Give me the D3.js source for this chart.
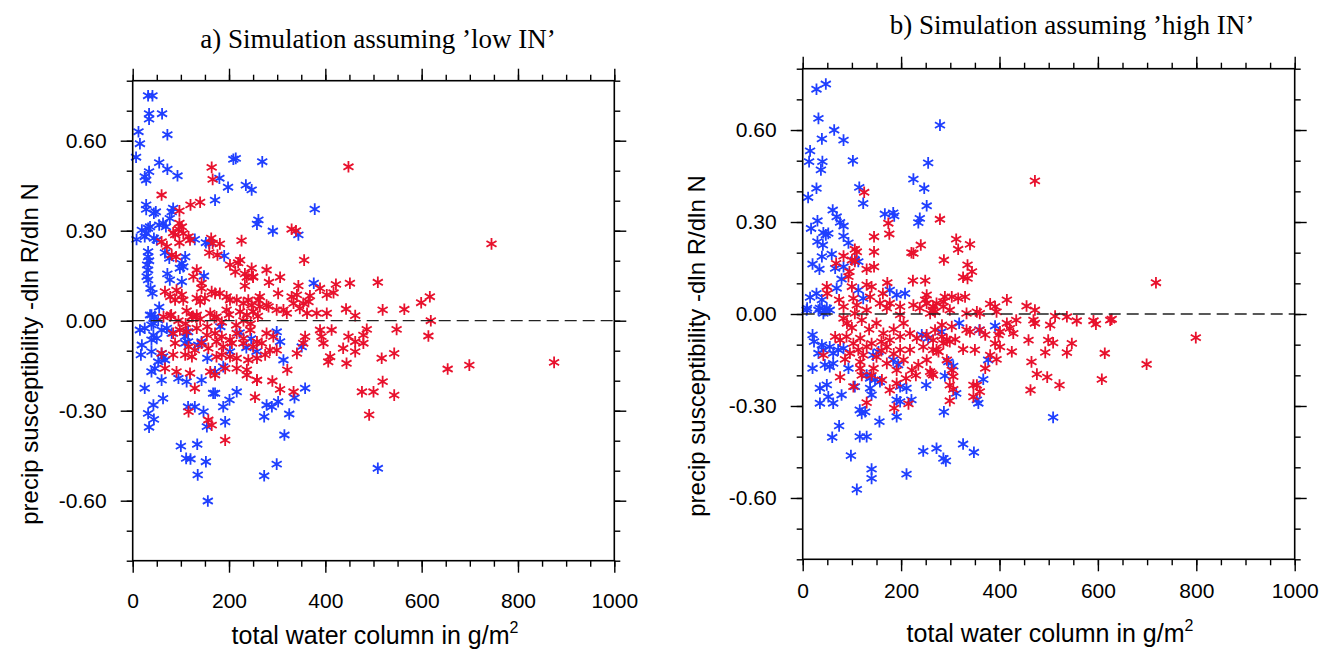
<!DOCTYPE html>
<html><head><meta charset="utf-8">
<script src="https://cdn.jsdelivr.net/npm/d3@7"></script>
<style>body{margin:0;background:#fff} svg{display:block}</style>
</head><body><svg id="c" width="1321" height="650"></svg>
<script>
const xTickValues = [0,200,400,600,800,1000];
const xTickLabels = ["0","200","400","600","800","1000"];
const yTickValues = [-0.6,-0.3,0,0.3,0.6];
const yTickLabels = ["-0.60","-0.30","0.00","0.30","0.60"];
const panelTitles = ["a) Simulation assuming \u2019low IN\u2019","b) Simulation assuming \u2019high IN\u2019"];
const xAxisTitle = "total water column in g/m";
const xAxisTitleSup = "2";
const yAxisTitle = "precip susceptibility -dln R/dln N";

const lowIN_blue = [[32,0.75],[41,0.75],[34,0.69],[34,0.672],[61,0.69],[12,0.63],[72,0.62],[15,0.59],[7,0.545],[55,0.527],[34,0.497],[72,0.505],[25,0.48],[28,0.469],[93,0.483],[180,0.475],[198,0.445],[235,0.452],[247,0.436],[209,0.538],[214,0.541],[171,0.402],[28,0.386],[28,0.371],[48,0.363],[44,0.358],[84,0.375],[81,0.363],[77,0.341],[261,0.336],[258,0.322],[63,0.325],[55,0.319],[69,0.313],[36,0.313],[32,0.308],[19,0.302],[28,0.291],[8,0.271],[25,0.28],[44,0.275],[50,0.269],[129,0.271],[152,0.26],[159,0.258],[32,0.23],[32,0.213],[34,0.2],[30,0.186],[67,0.227],[76,0.208],[109,0.213],[102,0.191],[98,0.175],[105,0.18],[190,0.216],[32,0.169],[29,0.147],[32,0.136],[37,0.108],[41,0.091],[72,0.156],[77,0.136],[148,0.149],[102,0.13],[55,0.045],[39,0.019],[269,0.53],[378,0.372],[291,0.299],[344,0.286],[376,0.125],[36,0.019],[46,0.013],[53,0.002],[43,-0.009],[39,-0.014],[15,-0.031],[25,-0.025],[43,-0.048],[39,-0.064],[50,-0.059],[60,-0.031],[71,-0.025],[81,-0.042],[115,-0.037],[109,-0.053],[109,-0.075],[115,-0.07],[136,-0.081],[143,-0.07],[19,-0.081],[17,-0.114],[39,-0.103],[60,-0.109],[63,-0.12],[53,-0.137],[67,-0.131],[46,-0.159],[39,-0.17],[60,-0.198],[25,-0.225],[155,-0.125],[202,-0.103],[188,-0.153],[171,-0.17],[95,-0.192],[112,-0.203],[143,-0.198],[63,-0.259],[43,-0.281],[32,-0.309],[44,-0.329],[34,-0.355],[115,-0.287],[129,-0.287],[147,-0.303],[154,-0.353],[167,-0.242],[171,-0.242],[188,-0.287],[201,-0.264],[216,-0.237],[192,-0.337],[100,-0.418],[134,-0.412],[111,-0.459],[120,-0.461],[152,-0.47],[135,-0.514],[156,-0.601],[299,-0.037],[306,-0.07],[351,-0.087],[313,-0.131],[257,-0.103],[358,-0.225],[336,-0.257],[302,-0.27],[289,-0.287],[278,-0.281],[273,-0.32],[325,-0.311],[315,-0.381],[299,-0.478],[273,-0.517],[509,-0.492],[182,-0.02],[222,-0.04],[236,-0.09],[246,-0.06]];

const lowIN_red = [[164,0.511],[166,0.471],[60,0.419],[120,0.386],[140,0.395],[97,0.366],[97,0.325],[102,0.313],[95,0.305],[105,0.291],[116,0.28],[119,0.269],[84,0.293],[88,0.286],[60,0.263],[71,0.247],[97,0.26],[163,0.275],[166,0.258],[181,0.256],[176,0.219],[159,0.227],[226,0.267],[81,0.219],[90,0.213],[202,0.186],[213,0.163],[223,0.202],[219,0.193],[133,0.169],[126,0.147],[233,0.156],[237,0.145],[250,0.145],[143,0.125],[143,0.108],[233,0.116],[67,0.097],[78,0.08],[91,0.102],[102,0.086],[105,0.069],[88,0.069],[133,0.075],[140,0.063],[150,0.075],[164,0.097],[171,0.091],[181,0.091],[195,0.08],[202,0.069],[216,0.069],[230,0.058],[240,0.069],[247,0.052],[261,0.069],[64,0.013],[78,0.016],[112,0.033],[123,0.013],[133,0.019],[161,0.025],[174,0.013],[195,0.036],[223,0.03],[237,0.019],[80,0.02],[95,0.0],[110,-0.01],[125,0.015],[140,0.005],[155,-0.02],[170,0.01],[185,-0.005],[200,0.02],[215,-0.015],[230,0.0],[245,-0.01],[260,0.015],[84,-0.042],[98,-0.031],[112,-0.037],[133,-0.025],[154,-0.048],[171,-0.042],[185,-0.053],[202,-0.064],[216,-0.042],[230,-0.059],[244,-0.031],[258,-0.07],[88,-0.075],[116,-0.087],[129,-0.098],[143,-0.075],[157,-0.092],[174,-0.07],[188,-0.087],[206,-0.075],[230,-0.075],[250,-0.087],[60,-0.109],[84,-0.114],[109,-0.114],[123,-0.12],[174,-0.12],[185,-0.114],[202,-0.12],[216,-0.125],[240,-0.131],[258,-0.125],[67,-0.159],[91,-0.17],[119,-0.175],[161,-0.17],[171,-0.181],[192,-0.159],[216,-0.159],[237,-0.164],[237,-0.181],[258,-0.198],[129,-0.225],[254,-0.255],[116,-0.303],[157,-0.331],[164,-0.348],[192,-0.398],[448,0.513],[330,0.305],[339,0.3],[356,0.202],[278,0.169],[306,0.145],[283,0.128],[250,0.147],[247,0.175],[422,0.121],[451,0.125],[509,0.128],[403,0.086],[417,0.093],[389,0.108],[344,0.116],[341,0.086],[330,0.08],[368,0.083],[365,0.063],[302,0.091],[264,0.08],[599,0.06],[617,0.08],[564,0.038],[519,0.036],[443,0.039],[462,0.017],[282,0.047],[264,0.047],[250,0.03],[313,0.036],[347,0.041],[382,0.025],[403,0.025],[354,0.058],[548,-0.029],[614,-0.051],[486,-0.029],[479,-0.048],[479,-0.075],[462,-0.07],[448,-0.053],[437,-0.092],[462,-0.103],[410,-0.12],[406,-0.137],[444,-0.142],[389,-0.031],[392,-0.053],[396,-0.075],[413,-0.031],[517,-0.125],[543,-0.109],[519,-0.203],[476,-0.237],[500,-0.237],[543,-0.248],[491,-0.314],[258,-0.198],[290,-0.201],[306,-0.229],[334,-0.237],[321,-0.164],[278,0.052],[299,0.036],[320,0.025],[334,0.058],[362,0.025],[278,-0.042],[268,-0.075],[292,-0.053],[285,-0.098],[275,-0.114],[299,-0.098],[341,-0.109],[358,-0.053],[354,-0.075],[745,0.256],[619,0.0],[654,-0.161],[699,-0.148],[875,-0.139]];

const highIN_blue = [[28,0.733],[47,0.75],[32,0.638],[64,0.6],[39,0.571],[83,0.567],[15,0.532],[13,0.497],[40,0.497],[37,0.47],[102,0.5],[279,0.616],[255,0.493],[225,0.44],[247,0.41],[252,0.353],[28,0.41],[11,0.38],[115,0.413],[123,0.361],[61,0.339],[69,0.317],[76,0.299],[83,0.287],[30,0.304],[17,0.279],[167,0.326],[184,0.33],[186,0.32],[238,0.312],[235,0.298],[42,0.265],[52,0.263],[47,0.258],[83,0.254],[93,0.232],[30,0.236],[41,0.225],[39,0.187],[59,0.195],[20,0.163],[34,0.146],[66,0.149],[83,0.154],[106,0.176],[113,0.171],[79,0.114],[69,0.084],[15,0.054],[28,0.067],[39,0.046],[9,0.019],[35,0.019],[45,0.011],[55,0.013],[113,0.078],[123,0.051],[177,0.078],[191,0.062],[208,0.067],[8,0.013],[32,0.013],[42,0.002],[49,0.019],[20,-0.068],[23,-0.09],[39,-0.101],[42,-0.117],[32,-0.128],[55,-0.107],[62,-0.128],[72,-0.117],[83,-0.112],[20,-0.177],[45,-0.166],[55,-0.172],[62,-0.161],[35,-0.242],[49,-0.231],[52,-0.27],[62,-0.291],[35,-0.291],[79,-0.264],[93,-0.177],[106,-0.237],[137,-0.242],[140,-0.264],[116,-0.313],[120,-0.324],[127,-0.319],[137,-0.21],[147,-0.215],[157,-0.221],[130,-0.199],[154,-0.123],[143,-0.134],[184,-0.15],[194,-0.166],[198,-0.237],[211,-0.242],[191,-0.28],[198,-0.286],[221,-0.28],[191,-0.335],[251,-0.232],[242,-0.068],[255,-0.079],[74,-0.365],[60,-0.402],[116,-0.4],[130,-0.4],[156,-0.351],[98,-0.462],[140,-0.506],[140,-0.536],[110,-0.572],[211,-0.522],[245,-0.447],[272,-0.438],[318,-0.03],[391,-0.039],[359,-0.052],[282,-0.058],[377,-0.15],[296,-0.156],[306,-0.17],[289,-0.202],[367,-0.213],[312,-0.259],[354,-0.28],[357,-0.291],[287,-0.319],[509,-0.337],[326,-0.424],[348,-0.451],[286,-0.471],[291,-0.479]];

const highIN_red = [[125,0.397],[174,0.296],[176,0.261],[145,0.252],[145,0.203],[106,0.211],[110,0.203],[221,0.2],[225,0.198],[240,0.225],[83,0.189],[68,0.165],[100,0.176],[106,0.171],[130,0.146],[145,0.154],[95,0.138],[93,0.122],[224,0.109],[249,0.109],[49,0.089],[50,0.067],[100,0.089],[130,0.095],[140,0.089],[172,0.102],[163,0.067],[137,0.056],[74,0.046],[103,0.051],[252,0.062],[249,0.046],[83,0.024],[110,0.029],[157,0.035],[171,0.019],[198,0.024],[225,0.029],[238,0.019],[265,0.024],[83,-0.014],[106,0.002],[130,0.013],[177,0.035],[198,-0.003],[252,0.035],[269,0.007],[66,-0.074],[76,-0.085],[89,-0.074],[103,-0.096],[117,-0.079],[130,-0.107],[113,-0.117],[96,-0.128],[123,-0.134],[140,-0.096],[164,-0.063],[177,-0.085],[198,-0.074],[218,-0.063],[232,-0.079],[252,-0.068],[265,-0.085],[171,-0.107],[198,-0.117],[218,-0.117],[245,-0.107],[272,-0.117],[42,-0.134],[86,-0.148],[117,-0.156],[117,-0.177],[144,-0.177],[171,-0.161],[191,-0.183],[252,-0.15],[235,-0.166],[222,-0.183],[259,-0.188],[265,-0.199],[76,-0.206],[103,-0.237],[161,-0.215],[177,-0.248],[191,-0.226],[130,-0.289],[186,-0.307],[215,-0.293],[472,0.434],[279,0.309],[312,0.244],[316,0.211],[340,0.227],[287,0.176],[335,0.16],[344,0.138],[326,0.12],[335,0.116],[415,0.046],[289,0.056],[303,0.056],[316,0.051],[330,0.056],[272,0.035],[286,0.04],[381,0.033],[391,0.024],[455,0.026],[472,0.013],[354,0.007],[360,0.002],[333,0.002],[394,0.007],[259,0.002],[265,0.013],[286,0.024],[299,0.013],[469,-0.02],[472,-0.03],[503,-0.036],[513,-0.007],[537,-0.009],[557,-0.022],[591,-0.022],[596,-0.033],[625,-0.02],[283,-0.036],[303,-0.041],[333,-0.052],[340,-0.058],[360,-0.052],[371,-0.068],[401,-0.058],[415,-0.03],[421,-0.047],[428,-0.063],[434,-0.02],[398,-0.068],[269,-0.052],[283,-0.074],[293,-0.083],[299,-0.09],[310,-0.083],[286,-0.096],[265,-0.117],[276,-0.123],[326,-0.115],[350,-0.117],[391,-0.096],[401,-0.107],[425,-0.123],[459,-0.085],[499,-0.085],[509,-0.094],[547,-0.096],[537,-0.126],[493,-0.125],[614,-0.128],[381,-0.134],[394,-0.148],[371,-0.177],[293,-0.15],[262,-0.194],[303,-0.183],[306,-0.204],[465,-0.156],[476,-0.196],[497,-0.206],[522,-0.232],[608,-0.213],[463,-0.248],[299,-0.232],[306,-0.246],[347,-0.232],[354,-0.232],[360,-0.253],[347,-0.27],[299,-0.283],[718,0.102],[628,-0.017],[799,-0.077],[699,-0.164],[90,-0.03],[100,-0.045],[120,-0.02],[135,-0.05],[150,-0.03],[160,-0.09],[185,-0.05],[205,-0.03],[150,-0.14],[160,-0.12],[185,-0.13],[205,-0.15],[120,-0.2],[140,-0.2],[210,-0.21],[230,-0.2]];

const BLUE = "#1f3fff", RED = "#e8112d";
const svg = d3.select("#c");
const panels = [
  {left:132.7, right:614.3, top:80.7, bottom:560.7, blue:lowIN_blue, red:lowIN_red, title:panelTitles[0], tx:378, ty:48, xlabPad:20, xtX:375, xtY:644, ytX:30, ytY:354},
  {left:802.7, right:1294.7, top:68.7, bottom:559.3, blue:highIN_blue, red:highIN_red, title:panelTitles[1], tx:1072, ty:34, xlabPad:12, xtX:1050, xtY:642, ytX:697, ytY:346}
];
const r = 5.8, c30 = Math.cos(Math.PI/6)*r, s30 = Math.sin(Math.PI/6)*r;
const star = `M0,${-r}L0,${r}M${-c30},${-s30}L${c30},${s30}M${-c30},${s30}L${c30},${-s30}`;
const minorX = d3.range(0,1001,50), minorY = d3.range(-8,9).map(v=>v/10);

panels.forEach(p=>{
  const x = d3.scaleLinear().domain([0,1000]).range([p.left,p.right]);
  const y = d3.scaleLinear().domain([-0.8,0.8]).range([p.bottom,p.top]);
  const g = svg.append("g");
  const pts = g.append("g").attr("fill","none").attr("stroke-width",1.8);
  pts.selectAll("path.b").data(p.blue).join("path").attr("class","b")
    .attr("d",star).attr("stroke",BLUE).attr("transform",d=>`translate(${x(d[0])},${y(d[1])})`);
  pts.selectAll("path.r").data(p.red).join("path").attr("class","r")
    .attr("d",star).attr("stroke",RED).attr("transform",d=>`translate(${x(d[0])},${y(d[1])})`);
  g.append("line").attr("x1",x(0)).attr("x2",x(1000)).attr("y1",y(0)).attr("y2",y(0))
    .attr("stroke","#222").attr("stroke-width",1.3).attr("stroke-dasharray","12,6");
  g.append("rect").attr("x",p.left).attr("y",p.top).attr("width",p.right-p.left).attr("height",p.bottom-p.top)
    .attr("fill","none").attr("stroke","#000").attr("stroke-width",1.6);
  const styleAx = sel=>{ sel.select(".domain").remove(); sel.selectAll(".tick line").attr("stroke","#000").attr("stroke-width",1.4);
    sel.selectAll("text").attr("font-family","'Liberation Sans',Arial,sans-serif").attr("font-size",21).attr("fill","#000"); };
  g.append("g").attr("transform",`translate(0,${p.bottom})`).call(d3.axisBottom(x).tickValues(minorX).tickSize(6).tickFormat("")).call(styleAx);
  g.append("g").attr("transform",`translate(0,${p.top})`).call(d3.axisTop(x).tickValues(minorX).tickSize(6).tickFormat("")).call(styleAx);
  g.append("g").attr("transform",`translate(${p.left},0)`).call(d3.axisLeft(y).tickValues(minorY).tickSize(6).tickFormat("")).call(styleAx);
  g.append("g").attr("transform",`translate(${p.right},0)`).call(d3.axisRight(y).tickValues(minorY).tickSize(6).tickFormat("")).call(styleAx);
  g.append("g").attr("transform",`translate(0,${p.bottom})`).call(d3.axisBottom(x).tickValues(xTickValues).tickSize(12).tickPadding(p.xlabPad).tickFormat((d,i)=>xTickLabels[i])).call(styleAx);
  g.append("g").attr("transform",`translate(0,${p.top})`).call(d3.axisTop(x).tickValues(xTickValues).tickSize(12).tickFormat("")).call(styleAx);
  g.append("g").attr("transform",`translate(${p.left},0)`).call(d3.axisLeft(y).tickValues(yTickValues).tickSize(12).tickPadding(14).tickFormat((d,i)=>yTickLabels[i])).call(styleAx);
  g.append("g").attr("transform",`translate(${p.right},0)`).call(d3.axisRight(y).tickValues(yTickValues).tickSize(12).tickFormat("")).call(styleAx);
  g.append("text").attr("x",p.tx).attr("y",p.ty).attr("text-anchor","middle")
    .attr("font-family","'Liberation Serif','Times New Roman',serif").attr("font-size",27).text(p.title);
  const xt = g.append("text").attr("x",p.xtX).attr("y",p.xtY).attr("text-anchor","middle")
    .attr("font-family","'Liberation Sans',Arial,sans-serif").attr("font-size",25);
  xt.append("tspan").text(xAxisTitle);
  xt.append("tspan").attr("dy",-11).attr("font-size",16).text(xAxisTitleSup);
  g.append("text").attr("transform",`translate(${p.ytX},${p.ytY}) rotate(-90)`).attr("text-anchor","middle")
    .attr("dy","0.35em").attr("font-family","'Liberation Sans',Arial,sans-serif").attr("font-size",24).text(yAxisTitle);
});
</script></body></html>
